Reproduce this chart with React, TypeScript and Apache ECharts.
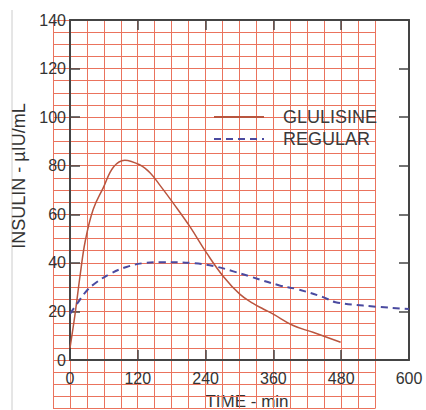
import React, { useEffect, useRef } from "react";
import * as echarts from "echarts";

const glulisineTime = [0, 9, 18, 27, 41, 59, 77, 97, 124, 142, 159, 183, 212, 242, 271, 301, 324, 342, 359, 395, 430, 479];
const glulisineValue = [5, 19, 35, 49, 62, 71, 79.5, 82.3, 80.3, 77, 72, 64.5, 55, 44, 34.5, 27, 23.3, 21, 19, 14.2, 11.4, 7.3];

const regularTime = [0, 12, 30, 47, 71, 100, 130, 160, 218, 254, 289, 320, 371, 400, 448, 470, 519, 600];
const regularValue = [19, 23, 28.6, 32, 35.5, 38.3, 39.9, 40.3, 39.9, 38.7, 36.5, 34.3, 30.7, 29.3, 25.9, 23.8, 22.4, 21];

const seriesNames = ["GLULISINE", "REGULAR"];
const xTitle = "TIME - min";
const yTitle = "INSULIN - µIU/mL";

const FONT = "'Liberation Sans', Arial, sans-serif";
const RED = "#ea735d";
const AXIS = "#444";

export default function App() {
  const ref = useRef<HTMLDivElement>(null);
  useEffect(() => {
    if (!ref.current) return;
    const chart = echarts.init(ref.current, undefined, { renderer: "svg" });
    const hiddenAxis = {
      axisLine: { show: false },
      axisTick: { show: false },
      axisLabel: { show: false },
      splitLine: { show: true, lineStyle: { color: RED, width: 1 } },
    };
    const frameAxis = (showLabel: boolean, position: string, margin: number) => ({
      gridIndex: 1,
      type: "value",
      position,
      axisLine: { show: true, onZero: false, lineStyle: { color: AXIS, width: 2 } },
      axisTick: { show: true, inside: true, length: 10, lineStyle: { color: AXIS, width: 1.5 } },
      axisLabel: { show: showLabel, color: "#333", fontSize: 16, fontFamily: FONT, margin },
      splitLine: { show: false },
      z: 3,
    });
    const option: any = {
      animation: false,
      grid: [
        { left: 53, top: 20, width: 322, height: 388.6 },
        { left: 70, top: 20, width: 339, height: 340 },
      ],
      xAxis: [
        { gridIndex: 0, type: "value", min: -30, max: 540, interval: 30, ...hiddenAxis, z: 0 },
        { ...frameAxis(true, "bottom", 10), min: 0, max: 600, interval: 120 },
        { ...frameAxis(false, "top", 8), min: 0, max: 600, interval: 120 },
      ],
      yAxis: [
        { gridIndex: 0, type: "value", min: -20, max: 140, interval: 5, ...hiddenAxis, z: 0 },
        { ...frameAxis(true, "left", 4), min: 0, max: 140, interval: 20 },
        { ...frameAxis(false, "right", 8), min: 0, max: 140, interval: 20 },
      ],
      legend: {
        orient: "vertical",
        left: 213,
        top: 107,
        padding: 0,
        itemWidth: 50,
        itemHeight: 14,
        itemGap: 2,
        data: seriesNames,
        itemStyle: { opacity: 0 },
        textStyle: { fontSize: 18, fontFamily: FONT, color: "#3a3a3a", lineHeight: 20, padding: [0, 0, 0, 14] },
      },
      series: [
        {
          name: seriesNames[0],
          type: "line",
          xAxisIndex: 1,
          yAxisIndex: 1,
          symbol: "none",
          smooth: 0.4,
          lineStyle: { color: "#b8553f", width: 1.5 },
          itemStyle: { color: "#b8553f" },
          data: glulisineTime.map((t, i) => [t, glulisineValue[i]]),
          z: 4,
        },
        {
          name: seriesNames[1],
          type: "line",
          xAxisIndex: 1,
          yAxisIndex: 1,
          symbol: "none",
          smooth: 0.4,
          lineStyle: { color: "#4a4aa0", width: 2, type: [7, 5] },
          itemStyle: { color: "#4a4aa0" },
          data: regularTime.map((t, i) => [t, regularValue[i]]),
          z: 4,
        },
      ],
      graphic: [
        { type: "line", shape: { x1: 12, y1: 10, x2: 12, y2: 410 }, style: { stroke: "#cccccc", lineWidth: 1 } },
        {
          type: "text",
          x: 247,
          y: 401,
          style: { text: xTitle, fontSize: 17, fontFamily: FONT, fill: "#333", align: "center", verticalAlign: "middle" },
        },
        {
          type: "text",
          x: 19,
          y: 176,
          rotation: Math.PI / 2,
          style: { text: yTitle, fontSize: 18, fontFamily: FONT, fill: "#333", align: "center", verticalAlign: "middle" },
        },
      ],
    };
    chart.setOption(option);
    return () => chart.dispose();
  }, []);
  return <div ref={ref} style={{ width: 426, height: 410, position: "absolute", left: 0, top: 0 }} />;
}
